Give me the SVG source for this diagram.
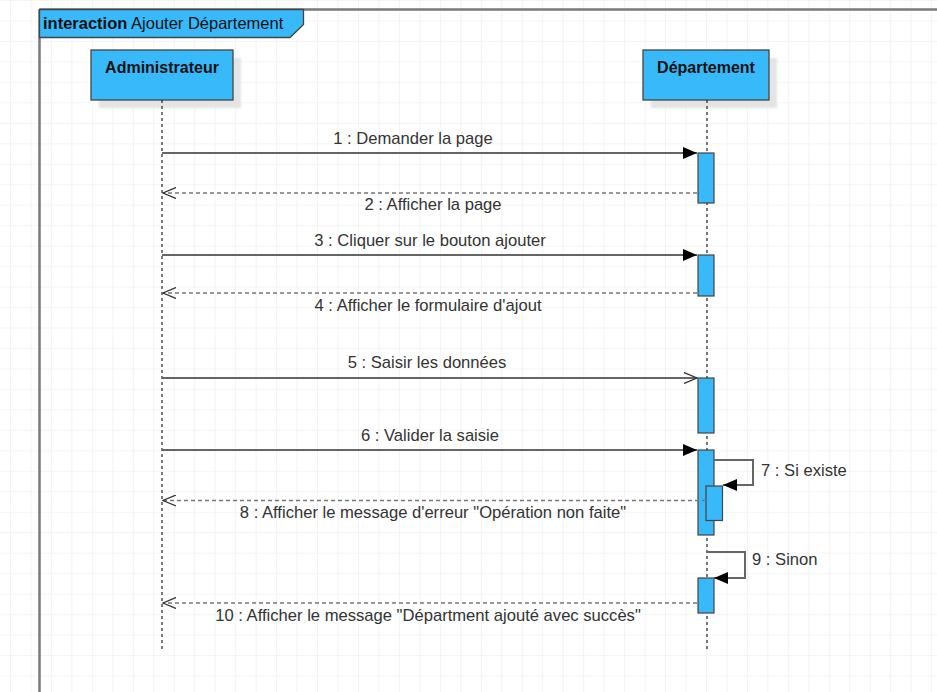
<svg xmlns="http://www.w3.org/2000/svg" width="937" height="692" viewBox="0 0 937 692">
  <defs>
    <pattern id="grid" x="10" y="0" width="20.47" height="20.47" patternUnits="userSpaceOnUse">
      <path d="M 0 0 L 0 20.47 M 0 0 L 20.47 0" fill="none" stroke="#ececec" stroke-width="1.2"/>
    </pattern>
    <marker id="filled" viewBox="0 0 14 12" refX="14" refY="6" markerWidth="14" markerHeight="12" markerUnits="userSpaceOnUse" orient="auto">
      <path d="M 0 0 L 14 6 L 0 12 Z" fill="#000"/>
    </marker>
    <marker id="open" viewBox="0 0 14 12" refX="13" refY="6" markerWidth="14" markerHeight="12" markerUnits="userSpaceOnUse" orient="auto">
      <path d="M 0 0.5 L 13 6 L 0 11.5" fill="none" stroke="#333" stroke-width="1.3"/>
    </marker>
    <filter id="soft" x="-10%" y="-10%" width="130%" height="130%">
      <feGaussianBlur stdDeviation="1.2"/>
    </filter>
  </defs>
  <style>
    .frame { fill: none; stroke: #7a7a7a; stroke-width: 2.5; }
    .head { fill: #38b9fa; stroke: #444; stroke-width: 1.3; }
    .box { fill: #38b9fa; stroke: #444; stroke-width: 1.3; }
    .shadow { fill: #e4e4e4; filter: url(#soft); }
    .life { stroke: #222; stroke-width: 1.2; stroke-dasharray: 3 3; fill: none; }
    .act { fill: #38b9fa; stroke: #444; stroke-width: 1.2; }
    .call { stroke: #666; stroke-width: 2; fill: none; }
    .ret { stroke: #777; stroke-width: 1.5; stroke-dasharray: 4 3; fill: none; }
    .name { font-family: "Liberation Sans", Arial, sans-serif; font-size: 16px; font-weight: bold; fill: #111; text-anchor: middle; }
    .lbl { font-family: "Liberation Sans", Arial, sans-serif; font-size: 16.6px; fill: #333; text-anchor: middle; }
    .lbl-l { font-family: "Liberation Sans", Arial, sans-serif; font-size: 16.6px; fill: #333; }
  </style>

  <!-- background grid -->
  <rect width="937" height="692" fill="#fff"/>
  <rect width="937" height="692" fill="url(#grid)"/>

  <!-- interaction frame -->
  <g id="frame">
    <path class="frame" d="M 39.5 9.5 L 940 9.5 M 39.5 9.5 L 39.5 700"/>
    <path class="head" d="M 39.5 9.5 L 303.5 9.5 L 303.5 24.5 L 290 37.5 L 39.5 37.5 Z"/>
    <text x="43" y="29" font-family="'Liberation Sans', Arial, sans-serif" font-size="16.5" fill="#111"><tspan font-weight="bold">interaction</tspan> Ajouter Département</text>
  </g>

  <!-- lifelines -->
  <g id="administrateur">
    <rect class="shadow" x="99" y="58" width="142" height="50"/>
    <rect class="box" x="91" y="50" width="142" height="50"/>
    <text class="name" x="162" y="73">Administrateur</text>
    <line class="life" x1="162" y1="100" x2="162" y2="651"/>
  </g>

  <g id="departement">
    <rect class="shadow" x="651" y="58" width="126" height="50"/>
    <rect class="box" x="643" y="50" width="126" height="50"/>
    <text class="name" x="706" y="73">Département</text>
    <line class="life" x1="707" y1="100" x2="707" y2="651"/>
  </g>

  <!-- activation bars -->
  <g id="activations">
    <rect class="act" x="698" y="153" width="16" height="50"/>
    <rect class="act" x="698" y="255" width="16" height="41"/>
    <rect class="act" x="698" y="378" width="16" height="55"/>
    <rect class="act" x="698" y="450" width="16" height="85"/>
    <rect class="act" x="706" y="486" width="16.5" height="34.5"/>
    <rect class="act" x="698" y="578" width="16" height="35"/>
  </g>

  <!-- messages -->
  <g id="connectors">
    <line class="call" x1="162" y1="153" x2="697" y2="153" marker-end="url(#filled)"/>
    <line class="ret" x1="697" y1="193" x2="163" y2="193" marker-end="url(#open)"/>
    <line class="call" x1="162" y1="255" x2="697" y2="255" marker-end="url(#filled)"/>
    <line class="ret" x1="697" y1="293" x2="163" y2="293" marker-end="url(#open)"/>
    <line class="call" x1="162" y1="378" x2="697" y2="378" marker-end="url(#open)"/>
    <line class="call" x1="162" y1="450" x2="697" y2="450" marker-end="url(#filled)"/>
    <path class="call" d="M 714 460 L 753 460 L 753 485 L 723 485" marker-end="url(#filled)"/>
    <line class="ret" x1="706" y1="500.5" x2="163" y2="500.5" marker-end="url(#open)"/>
    <path class="call" d="M 707 552 L 745 552 L 745 578 L 714 578" marker-end="url(#filled)"/>
    <line class="ret" x1="697" y1="603" x2="163" y2="603" marker-end="url(#open)"/>
  </g>

  <!-- message labels -->
  <g id="labels">
    <text class="lbl" x="413" y="144">1 : Demander la page</text>
    <text class="lbl" x="433" y="210">2 : Afficher la page</text>
    <text class="lbl" x="430" y="246">3 : Cliquer sur le bouton ajouter</text>
    <text class="lbl" x="428" y="311">4 : Afficher le formulaire d'ajout</text>
    <text class="lbl" x="427" y="368">5 : Saisir les données</text>
    <text class="lbl" x="430" y="441">6 : Valider la saisie</text>
    <text class="lbl-l" x="761" y="476">7 : Si existe</text>
    <text class="lbl" x="433" y="518">8 : Afficher le message d'erreur "Opération non faite"</text>
    <text class="lbl-l" x="752" y="565">9 : Sinon</text>
    <text class="lbl" x="428" y="621">10 : Afficher le message "Départment ajouté avec succès"</text>
  </g>
</svg>
